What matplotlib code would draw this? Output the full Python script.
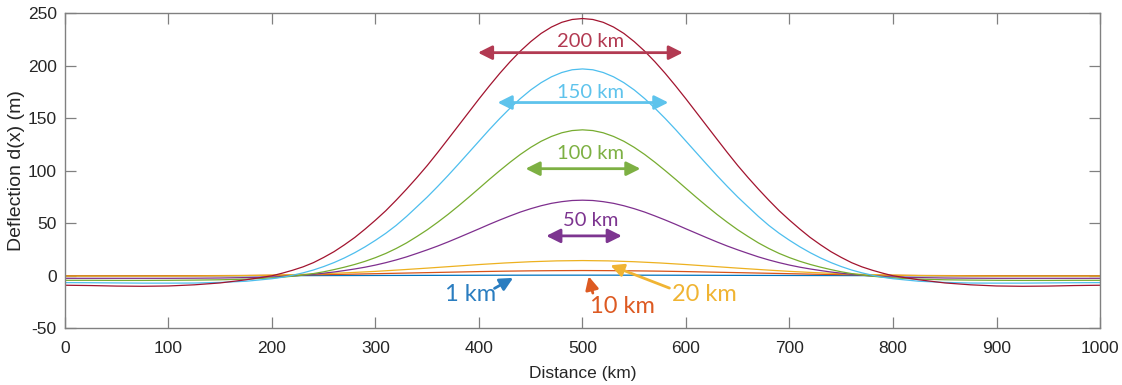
import numpy as np
import matplotlib.pyplot as plt

# distance along the profile (km): coarse in the flat tails, fine over the bulge
distance = np.concatenate([np.arange(0, 200, 25), np.arange(200, 801, 10), np.arange(825, 1001, 25)])
distance_coarse = np.arange(0, 1001, 25)

# deflection profiles (m), thin widths on the coarse grid
d_1km = [0, 0, 0, 0.01, 0.02, 0.03, 0.05, 0.08, 0.1, 0.15, 0.2, 0.25, 0.3, 0.35, 0.4, 0.45, 0.5, 0.55, 0.58, 0.6, 0.6,
         0.6, 0.58, 0.55, 0.5, 0.45, 0.4, 0.35, 0.3, 0.25, 0.2, 0.15, 0.1, 0.08, 0.05, 0.03, 0.02, 0.01, 0, 0, 0]
d_10km = [0, 0, 0, 0, 0.05, 0.1, 0.2, 0.3, 0.5, 0.8, 1.1, 1.5, 2, 2.5, 3, 3.5, 4, 4.4, 4.7, 4.9, 5,
          4.9, 4.7, 4.4, 4, 3.5, 3, 2.5, 2, 1.5, 1.1, 0.8, 0.5, 0.3, 0.2, 0.1, 0.05, 0, 0, 0, 0]
d_20km = [-0.3, -0.3, -0.3, -0.3, -0.3, -0.2, 0, 0.2, 0.6, 1.2, 2, 3, 4.2, 5.7, 7.3, 9, 10.7, 12.2, 13.4, 14.2, 14.5,
          14.2, 13.4, 12.2, 10.7, 9, 7.3, 5.7, 4.2, 3, 2, 1.2, 0.6, 0.2, 0, -0.2, -0.3, -0.3, -0.3, -0.3, -0.3]

# wider ones on the fine grid
d_50km = [-2.4, -2.4, -2.4, -2.4, -2.4, -2.3, -2.1, -1.7,
          -1.1, -0.7, -0.2, 0.5, 1.4, 2.5, 3.6, 5, 6.5, 8.2, 10.2, 12.5, 15.1, 18, 21.3, 24.7, 28.3, 32.2, 36.3, 40.5,
          44.7, 49, 53.1, 57, 60.7, 63.9, 66.7, 69, 70.6, 71.7, 72,
          71.7, 70.6, 69, 66.7, 63.9, 60.7, 57, 53.1, 49, 44.7,
          40.5, 36.3, 32.2, 28.3, 24.7, 21.3, 18, 15.1, 12.5, 10.2, 8.2, 6.5, 5, 3.6, 2.5, 1.4, 0.5, -0.2, -0.7, -1.1,
          -1.7, -2.1, -2.3, -2.4, -2.4, -2.4, -2.4, -2.4]
d_100km = [-4.3, -4.3, -4.4, -4.4, -4.3, -4.1, -3.8, -3.2,
           -2, -1.3, -0.4, 0.7, 2.1, 3.8, 5.9, 8.2, 10.8, 13.8, 17.3, 21.3, 26, 31.3, 37.4, 43.8, 50.9, 58.4, 66.4, 74.7,
           83.2, 91.8, 100.1, 108.1, 115.6, 122.3, 128.1, 132.7, 136.2, 138.3, 139,
           138.3, 136.2, 132.7, 128.1, 122.3, 115.6, 108.1, 100.1, 91.8, 83.2,
           74.7, 66.4, 58.4, 50.9, 43.8, 37.4, 31.3, 26, 21.3, 17.3, 13.8, 10.8, 8.2, 5.9, 3.8, 2.1, 0.7, -0.4, -1.3, -2,
           -3.2, -3.8, -4.1, -4.3, -4.4, -4.4, -4.3, -4.3]
d_150km = [-6.5, -6.6, -6.8, -7, -7, -6.9, -6.3, -5.2,
           -2.8, -1.4, 0.5, 2.8, 5.5, 8.8, 12.6, 17, 22, 27.6, 33.8, 40.5, 48, 56.5, 65.7, 75, 85, 95.4, 106.2, 117.2,
           128.2, 139.2, 149.7, 159.6, 168.8, 177, 183.9, 189.5, 193.6, 196.2, 197,
           196.2, 193.6, 189.5, 183.9, 177, 168.8, 159.6, 149.7, 139.2, 128.2,
           117.2, 106.2, 95.4, 85, 75, 65.7, 56.5, 48, 40.5, 33.8, 27.6, 22, 17, 12.6, 8.8, 5.5, 2.8, 0.5, -1.4, -2.8,
           -5.2, -6.3, -6.9, -7, -7, -6.8, -6.6, -6.5]
d_200km = [-9, -9.3, -9.8, -10, -9.7, -8.6, -6.8, -3.8,
           0, 2.5, 5.3, 8.5, 12.5, 17.5, 23, 29.5, 36.5, 44.5, 53, 62, 72, 82.5, 93.5, 105, 117.3, 130, 142.8, 155.6,
           168.4, 180.8, 192.7, 203.8, 214, 223, 230.8, 236.9, 241.4, 244.1, 245,
           244.1, 241.4, 236.9, 230.8, 223, 214, 203.8, 192.7, 180.8, 168.4,
           155.6, 142.8, 130, 117.3, 105, 93.5, 82.5, 72, 62, 53, 44.5, 36.5, 29.5, 23, 17.5, 12.5, 8.5, 5.3, 2.5, 0,
           -3.8, -6.8, -8.6, -9.7, -10, -9.8, -9.3, -9]

profiles = [(distance_coarse, d_1km), (distance_coarse, d_10km), (distance_coarse, d_20km),
            (distance, d_50km), (distance, d_100km), (distance, d_150km), (distance, d_200km)]
colors = ['#0072BD', '#D95319', '#EDB120', '#7E2F8E', '#77AC30', '#4DBEEE', '#A2142F']

# double arrows over the wide profiles
span_labels = ['50 km', '100 km', '150 km', '200 km']
span_x0 = [465, 445, 418, 399]
span_x1 = [538, 556, 583, 597]
span_y = [38, 102, 165, 212.5]
span_text_y = [52.5, 116, 175, 223]
span_colors = ['#7D3590', '#7DB043', '#5EC3EC', '#B23A52']

# pointer labels for the small profiles
point_labels = ['1 km', '10 km', '20 km']
point_text = [(392, -18), (539, -29.5), (618, -18)]
point_tail = [(415, -12), (510, -16.5), (584, -11.7)]
point_tip = [(433, -2), (506, -0.5), (527, 10)]
point_colors = ['#2A7DC0', '#DD5A22', '#F0B433']

plt.rcParams['font.family'] = ['Liberation Sans', 'DejaVu Sans']
plt.rcParams['axes.unicode_minus'] = False

fig = plt.figure(figsize=(11.22, 3.85), dpi=100)
ax = fig.add_axes([0.0579, 0.1473, 0.9225, 0.8182])

for (x, d), c in zip(profiles, colors):
    ax.plot(x, d, color=c, linewidth=0.9)

for lab, x0, x1, y, ty, c in zip(span_labels, span_x0, span_x1, span_y, span_text_y, span_colors):
    ax.annotate('', xy=(x1, y), xytext=(x0, y),
                arrowprops=dict(arrowstyle='<|-|>,head_length=0.6,head_width=0.3',
                                color=c, lw=2, shrinkA=0, shrinkB=0, mutation_scale=14))
    ax.text(508, ty, lab, color=c, fontsize=14.5, family=['Lato', 'DejaVu Sans'],
            ha='center', va='center')

for lab, tp, tail, tip, c in zip(point_labels, point_text, point_tail, point_tip, point_colors):
    ax.annotate('', xy=tip, xytext=tail,
                arrowprops=dict(arrowstyle='-|>,head_length=0.6,head_width=0.3',
                                color=c, lw=2, shrinkA=0, shrinkB=0, mutation_scale=13))
    ax.text(tp[0], tp[1], lab, color=c, fontsize=17, family=['Lato', 'DejaVu Sans'],
            ha='center', va='center')

ax.set_xlim(0, 1000)
ax.set_ylim(-50, 250)
ax.set_xticks(np.arange(0, 1001, 100))
ax.set_yticks(np.arange(-50, 251, 50))
for s in ax.spines.values():
    s.set_color('#808080')
    s.set_linewidth(1.0)
ax.tick_params(direction='in', length=8, width=0.9, color='#808080',
               top=True, right=True, labelsize=12.5, labelcolor='#262626', pad=6)
ax.tick_params(axis='x', pad=9)
ax.set_xlabel('Distance (km)', fontsize=12.5, color='#262626', labelpad=7)
ax.set_ylabel('Deflection d(x) (m)', fontsize=14, color='#262626', labelpad=2)

fig.savefig('out.png', dpi=100)
